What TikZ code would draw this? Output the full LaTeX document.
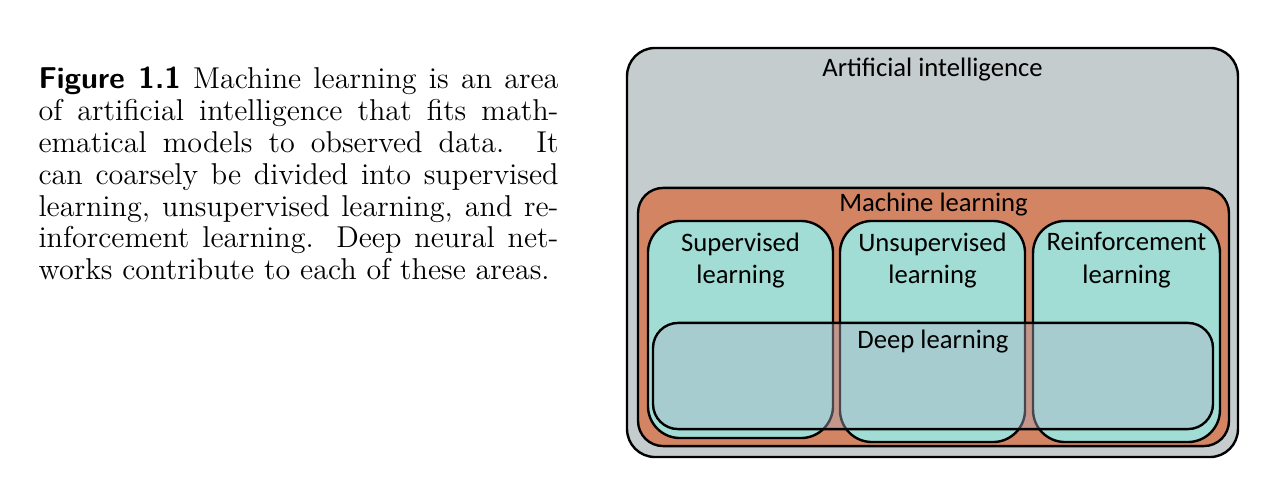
\documentclass[tikz,border=0pt]{standalone}
\usepackage{fontspec}
\usepackage{xcolor}
\usepackage{tikz}
\usetikzlibrary{positioning}
\newfontfamily\diagfont{Carlito}
\definecolor{aigray}{HTML}{C5CCCD}
\definecolor{mlorange}{HTML}{D38463}
\definecolor{subteal}{HTML}{A1DCD5}
\definecolor{deepgray}{RGB}{178,180,198}

\begin{document}
\begin{tikzpicture}[x=0.375pt, y=-0.375pt, node distance=1pt]
\tikzstyle{area} = [rectangle, draw=black, line width=0.9pt, inner sep=0pt]
\tikzstyle{areatext} = [font=\diagfont\fontsize{10}{12.1}\selectfont, inner sep=0pt, align=center]
\useasboundingbox (0,0) rectangle (1280,478);

% caption on the left
\node (caption) [anchor=north west, inner sep=0pt, text width=195pt, align=justify,
  font=\fontsize{11.3}{11.95}\selectfont] at (38,66.5)
  {\textsf{\textbf{Figure 1.1}} Machine learning is an area\linebreak
   of artificial intelligence that fits math-\linebreak
   ematical models to observed data. It\linebreak
   can coarsely be divided into supervised\linebreak
   learning, unsupervised learning, and re-\linebreak
   inforcement learning. Deep neural net-\linebreak
   works contribute to each of these areas.};

% nested areas
\node (ai) [area, fill=aigray, rounded corners=10.5pt, minimum width=229.1pt, minimum height=153.4pt] at (932.5,252.5) {};
\node (ml) [area, fill=mlorange, rounded corners=9.4pt, minimum width=221.6pt, minimum height=96.8pt] at (933.5,317) {};
\node (sup) [area, fill=subteal, rounded corners=12pt, minimum width=69.4pt, minimum height=81.4pt] at (740.5,329.5) {};
\node (unsup) [area, fill=subteal, rounded corners=12pt, minimum width=69.4pt, minimum height=82.9pt] at (932.5,331.5) {};
\node (rl) [area, fill=subteal, rounded corners=12pt, minimum width=70.1pt, minimum height=82.9pt] at (1126.5,331.5) {};
\node (deep) [area, fill=deepgray, fill opacity=0.4, rounded corners=9.4pt, minimum width=210pt, minimum height=39.8pt] at (933,376) {};

% labels
\node (ailabel) [areatext, below=4pt of ai.north] {Artificial intelligence};
\node (mllabel) [areatext, below=2.3pt of ml.north] {Machine learning};
\node (suplabel) [areatext, below=4.6pt of sup.north] {Supervised\\learning};
\node (unsuplabel) [areatext, below=4.6pt of unsup.north] {Unsupervised\\learning};
\node (rllabel) [areatext, below=4.6pt of rl.north] {Reinforcement\\learning};
\node (deeplabel) [areatext, below=2.8pt of deep.north] {Deep learning};
\end{tikzpicture}
\end{document}
